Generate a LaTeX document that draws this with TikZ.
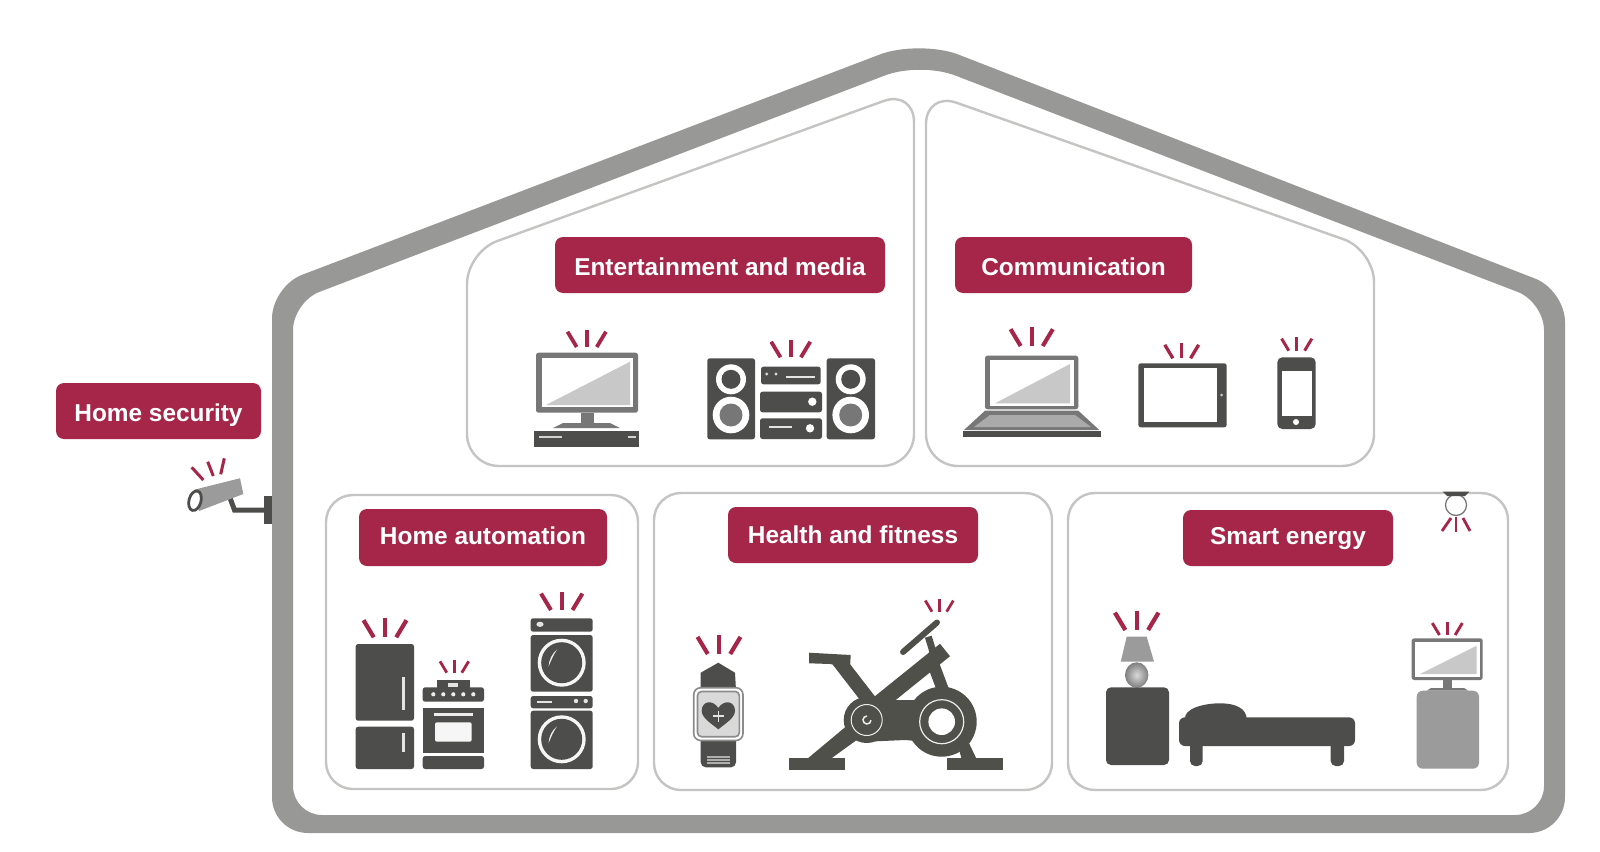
\documentclass[tikz,border=0pt]{standalone}
\usepackage{fontspec}
\setmainfont{Liberation Sans}
\definecolor{crim}{RGB}{165,38,72}
\definecolor{wallg}{RGB}{152,152,150}
\definecolor{roomg}{RGB}{196,196,194}
\definecolor{dk}{RGB}{77,77,75}
\definecolor{bk}{RGB}{80,80,74}
\definecolor{md}{RGB}{119,119,119}
\definecolor{lt}{RGB}{200,200,200}
\definecolor{gy}{RGB}{155,155,155}
\newcommand{\sigticks}[3]{%
  \pgfmathsetmacro{\tkh}{#3-(#2)}%
  \draw[sigline,line width=0.22*\tkh pt] (#1-1.13*\tkh,#2+0.1*\tkh) -- (#1-0.59*\tkh,#3);
  \draw[sigline,line width=0.22*\tkh pt] (#1,#2) -- (#1,#3);
  \draw[sigline,line width=0.22*\tkh pt] (#1+1.13*\tkh,#2+0.1*\tkh) -- (#1+0.59*\tkh,#3);
}
\tikzset{
  sigline/.style={crim,line cap=butt},
  tagbox/.style={fill=crim,rounded corners=8pt,inner sep=0pt,text=white,
    font=\fontsize{24.4}{27}\selectfont\bfseries,anchor=center},
  room/.style={draw=roomg,line width=2.4pt,rounded corners=32pt},
  soft/.style={rounded corners=2.5pt},
  slot/.style={line width=2pt},
}
\newcommand{\labelbox}[7]{% name, x0, y0, x1, y1, text shift, text
  \pgfmathsetlengthmacro{\boxw}{#4-#2}%
  \pgfmathsetlengthmacro{\boxh}{#5-#3}%
  \node[tagbox,minimum width=\boxw,minimum height=\boxh] (#1) at ({(#2+#4)/2},{(#3+#5)/2}) {\raisebox{#6}[0.716em][0pt]{#7}};}
\begin{document}
\begin{tikzpicture}[x=1pt,y=-1pt]
\useasboundingbox (0,0) rectangle (1600,851);
\fill[white] (0,0) rectangle (1600,851);
% house
\fill[wallg,even odd rule]
  (272,797) -- (272,318.3) .. controls (272,300.7) and (285.4,281.2) .. (301.9,274.9)
  -- (879.8,54.5) .. controls (901.4,46.3) and (936.6,46.3) .. (958.2,54.5)
  -- (1535.1,278.6) .. controls (1551.6,284.9) and (1565,304.4) .. (1565,322)
  -- (1565,797) .. controls (1565,817) and (1549,833) .. (1529,833)
  -- (308,833) .. controls (288,833) and (272,817) .. (272,797) -- cycle
  (293,786) -- (293,330) .. controls (293,314.6) and (304.8,297.5) .. (319.2,292)
  -- (884.5,75.6) .. controls (904.7,67.8) and (935.3,67.8) .. (955.5,75.6)
  -- (1517.8,292) .. controls (1532.2,297.5) and (1544,314.6) .. (1544,330)
  -- (1544,786) .. controls (1544,802) and (1531,815) .. (1515,815)
  -- (322,815) .. controls (306,815) and (293,802) .. (293,786) -- cycle;
% rooms
\draw[room] (690,466) -- (467,466) -- (467,252) -- (914,90) -- (914,466) -- cycle;
\draw[room] (1150,466) -- (926,466) -- (926,92) -- (1374,250) -- (1374,466) -- cycle;
\draw[room,rounded corners=27pt] (326,495) rectangle (638,789);
\draw[room,rounded corners=27pt] (654,493) rectangle (1052,790);
\draw[room,rounded corners=27pt] (1068,493) rectangle (1508,790);
% labels
\labelbox{ent}{555}{237}{885}{293}{-1.7pt}{Entertainment and media}
\labelbox{com}{955}{237}{1192}{293}{-1.7pt}{Communication}
\labelbox{sec}{56}{383}{261}{439}{-1.5pt}{Home security}
\labelbox{aut}{359}{509}{607}{566}{1.7pt}{Home automation}
\labelbox{fit}{728}{507}{978}{563}{0pt}{Health and fitness}
\labelbox{nrg}{1183}{510}{1393}{566}{2.2pt}{Smart energy}
% monitor
\sigticks{586.7}{330}{347}
\fill[md,soft] (536,352.7) rectangle (638,412.7);
\fill[white] (542,358) rectangle (632.5,407);
\fill[lt] (546,405) -- (630,361.7) -- (630,405) -- cycle;
\fill[md] (580.7,412.7) rectangle (594,423);
\fill[md] (553,428) -- (563,423) -- (610,423) -- (620,428) -- cycle;
\fill[dk] (534,431) rectangle (639,446.7);
\draw[slot,white!75!dk] (539,436.7) -- (562,436.7);
\draw[slot,white!75!dk] (628,436.7) -- (636,436.7);
% stereo
\sigticks{790.7}{340}{357.3}
\fill[dk,soft] (707.3,358.3) rectangle (755,439.3);
\fill[dk,soft] (826.7,358.3) rectangle (875,439.3);
\foreach \cx in {731,850.7}{
  \fill[white] (\cx,379.3) circle[radius=15];
  \fill[dk] (\cx,379.3) circle[radius=9.5];
  \fill[white] (\cx,415) circle[radius=18.3];
  \fill[md] (\cx,415) circle[radius=11.5];
}
\fill[dk,soft] (761,366.7) rectangle (820.7,384.3);
\fill[dk,soft] (760,391.7) rectangle (822,412.3);
\fill[dk,soft] (760,418.3) rectangle (822,439);
\fill[white!80!dk] (766.7,374) circle[radius=1.6] (776,374) circle[radius=1.6];
\draw[slot,white!85!dk] (786,377.3) -- (815,377.3);
\fill[white] (812.3,401.7) circle[radius=4.2];
\draw[slot,white!85!dk] (769.3,426.7) -- (792.3,426.7);
\fill[white] (810,428.3) circle[radius=4.2];
% laptop
\sigticks{1031.7}{327.3}{346}
\fill[md,soft] (985,355.7) rectangle (1078.3,409.3);
\fill[white] (989.5,359.5) rectangle (1074,406);
\fill[lt] (995,403.3) -- (1070,364) -- (1070,403.3) -- cycle;
\fill[md] (985,410.7) -- (1078.3,410.7) -- (1099.3,430) -- (964,430) -- cycle;
\fill[gy!85!white] (990,415) -- (1075,415) -- (1091,427) -- (974,427) -- cycle;
\fill[dk] (963.3,430.7) rectangle (1101,436.7);
% tablet
\sigticks{1181.7}{343.3}{358.3}
\fill[dk,soft] (1138.3,363.3) rectangle (1226.7,427.3);
\fill[white] (1144,368.3) rectangle (1217.3,421.7);
\fill[lt] (1221.7,395) circle[radius=1.5];
% phone
\sigticks{1296.7}{337.3}{350.7}
\fill[dk,rounded corners=5pt] (1277.3,357.3) rectangle (1315.7,429);
\fill[white] (1281.7,370.7) rectangle (1311.7,415.7);
\fill[white] (1296,422) circle[radius=3];
% fridge
\sigticks{385}{618.3}{637.3}
\fill[dk,soft] (355.7,644) rectangle (414,720.7);
\fill[dk,soft] (355.7,726.7) rectangle (414,769);
\fill[white!85!dk] (401.7,677.3) rectangle (405,710);
\fill[white!85!dk] (401.7,733.3) rectangle (405,751.7);
% oven
\sigticks{454.3}{660}{672.7}
\fill[dk] (436.7,680) rectangle (470,688);
\fill[white!85!dk] (448,682.7) rectangle (458,686.7);
\fill[dk,soft] (422.7,687.3) rectangle (484,701.7);
\foreach \dx in {433.3,443.3,453.3,463.3,473.3}{\fill[white!90!dk] (\dx,694.3) circle[radius=2.1];}
\fill[dk] (422.7,708.3) rectangle (484,753.3);
\fill[white!90!dk] (434,713) rectangle (472.7,715.5);
\fill[white!95!dk,rounded corners=2pt] (435,722.3) rectangle (471.7,741.7);
\fill[dk,soft] (422.7,756) rectangle (484,769);
% washer / dryer
\sigticks{561.7}{591.7}{610}
\fill[dk,soft] (530.7,618.3) rectangle (592.7,631.7);
\fill[white!85!dk] (540,624.3) ellipse[x radius=3.6,y radius=2.6];
\fill[dk,soft] (530.7,635) rectangle (592.7,691.7);
\fill[dk,soft] (530.7,696) rectangle (592.7,708.3);
\draw[slot,white!85!dk] (536.7,701.7) -- (551.7,701.7);
\fill[white!85!dk] (576,701) circle[radius=2.2] (585.7,701) circle[radius=2.2];
\fill[dk,soft] (530.7,710.7) rectangle (592.7,769);
\foreach \cy in {662.7,739.3}{
  \fill[white!95!dk] (561.7,\cy) circle[radius=24];
  \fill[dk] (561.7,\cy) circle[radius=20.5];
  \fill[white!90!dk] (548.5,\cy+4) .. controls (549,{\cy-3}) and (552,{\cy-9}) .. (557,{\cy-13}) .. controls (553.5,{\cy-8}) and (551,{\cy-2}) .. cycle;
}
% watch
\sigticks{719}{635}{654}
\fill[dk] (718.3,662.7) -- (735,672.7) -- (736,690) -- (700.7,690) -- (700.7,672.7) -- cycle;
\fill[dk,rounded corners=5pt] (700.7,735) -- (736,735) -- (736,767.3) -- (700.7,767.3) -- cycle;
\draw[white!55!dk,line width=1.3pt] (707,757) -- (730,757) (707,760) -- (730,760) (707,763) -- (730,763);
\draw[md!85!white,line width=1.6pt,fill=white,rounded corners=7pt] (693.7,687.7) rectangle (743,740.5);
\draw[md!85!white,line width=1.6pt,fill=lt!70!white,rounded corners=4pt] (697.5,691.5) rectangle (739.3,736.7);
\fill[dk] (718.3,708) .. controls (713,699.5) and (701.7,700.5) .. (701.7,711) .. controls (701.7,718) and (712,724) .. (718.3,729.3) .. controls (724.6,724) and (735,718) .. (735,711) .. controls (735,700.5) and (723.6,699.5) .. (718.3,708) -- cycle;
\draw[white!85!dk,line width=1.3pt] (713,716) -- (724,716) (718.5,710.5) -- (718.5,721.5);
% bike
\sigticks{939.3}{599.3}{611.7}
\fill[bk] (789.3,758.3) rectangle (845,770);
\fill[bk] (946.7,758.3) rectangle (1003.3,770);
\fill[bk] (806.7,759.3) -- (845,727.3) -- (856.7,740) -- (830,759.3) -- cycle;
\fill[bk] (958.3,746.7) -- (968.3,741.7) -- (976.7,759.3) -- (961.7,759.3) -- cycle;
\fill[bk] (809,652.7) -- (850.7,655) -- (850,667.7) -- (830,664) -- (809,663.3) -- cycle;
\draw[bk,line width=14pt] (838,660) -- (872,704);
\draw[bk,line width=16pt] (878,704) -- (945,650);
\draw[bk,line width=12pt] (931.7,660) -- (946.7,700);
\draw[bk,line width=7pt] (928.3,636.7) -- (933.3,653);
\draw[bk,line width=6pt,line cap=round] (903,652) -- (937,622.5);
\fill[bk] (866.7,700) -- (903,700) -- (943,700) -- (943,743.3) -- (905,740) -- (866.7,741.7) -- cycle;
\fill[bk] (866.7,720) circle[radius=23];
\fill[bk] (941.7,721.7) circle[radius=35];
\draw[white!90!bk,line width=1pt] (866.7,720) circle[radius=15.5];
\draw[white!90!bk,line width=1.5pt] (867,720) ++(3:4) arc[start angle=3,end angle=270,radius=4];
\draw[white!90!bk,line width=1.2pt] (941.7,721.7) circle[radius=22];
\fill[white] (941.7,721.7) circle[radius=13.3];
% ceiling light
\fill[white] (1456,505) circle[radius=10.5];
\draw[md,line width=1.3pt] (1456,505) circle[radius=10.5];
\fill[dk] (1442.7,491.7) -- (1469.3,491.7) -- (1465,496) -- (1447,496) -- cycle;
\draw[sigline,line width=2.8pt] (1451,518) -- (1442,531);
\draw[sigline,line width=2.8pt] (1456,517.3) -- (1456,531.7);
\draw[sigline,line width=2.8pt] (1463,518) -- (1470,531);
% lamp
\sigticks{1136.7}{610.7}{630}
\fill[gy] (1126.7,636.7) -- (1146.7,636.7) -- (1154,661.7) -- (1120.7,661.7) -- cycle;
\shade[inner color=white!70!gray,outer color=gray] (1136.7,675) ellipse[x radius=11.7,y radius=12.7];
\fill[dk,rounded corners=5pt] (1106,687.3) rectangle (1169,765);
% bed
\fill[dk] (1185,720) .. controls (1183,708) and (1205,703.3) .. (1220,703.3) .. controls (1235,703.3) and (1247,708) .. (1246.7,720) -- cycle;
\fill[dk,rounded corners=6pt] (1179,717.3) rectangle (1355,746);
\fill[dk,rounded corners=5pt] (1190,740) rectangle (1202.7,766);
\fill[dk,rounded corners=5pt] (1330.7,740) rectangle (1344,766);
% TV
\sigticks{1447.3}{621.7}{635}
\fill[md,soft] (1411.7,638.3) rectangle (1482.7,680);
\fill[white] (1415,641.5) rectangle (1479.5,676.5);
\fill[lt] (1420,674) -- (1476.7,645.7) -- (1476.7,674) -- cycle;
\fill[md] (1443.3,680) rectangle (1451.7,690);
\fill[md] (1427,690.5) -- (1431,688) -- (1464,688) -- (1468,690.5) -- cycle;
\fill[gy,rounded corners=6pt] (1416.7,690.7) rectangle (1479,768.7);
% camera
\draw[sigline,line width=3pt] (203.3,480) -- (191.7,467.3);
\draw[sigline,line width=3pt] (213.3,476) -- (207.7,461.7);
\draw[sigline,line width=3pt] (220.7,474.3) -- (224.3,458.3);
\fill[dk] (264.3,496) rectangle (272.3,524.3);
\draw[dk,line width=5pt] (230,498) -- (234.5,510) -- (266,510);
\fill[gy] (195,489.5) -- (240,478.3) -- (243.3,494) -- (199,511) -- cycle;
\draw[dk,line width=2.8pt,fill=white,rotate around={-15:(195,500.7)}] (195,500.7) ellipse[x radius=6,y radius=10];
\end{tikzpicture}
\end{document}
